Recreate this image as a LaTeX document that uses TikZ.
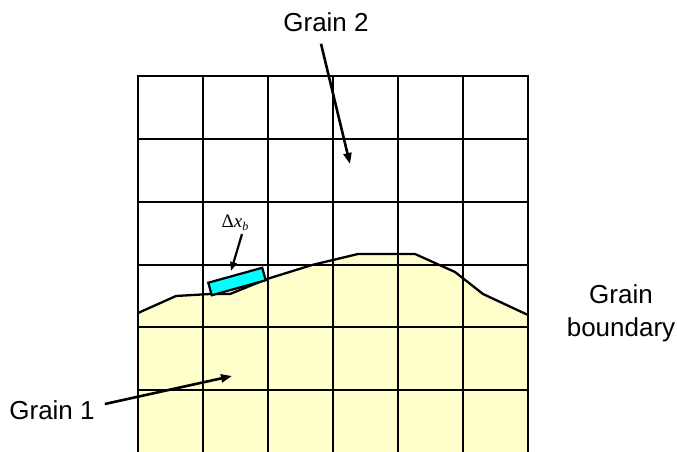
\documentclass[tikz,border=0pt]{standalone}
\usepackage{fontspec}
\setmainfont{Liberation Sans}
\newfontfamily\symbfont{Liberation Serif}
\usepackage{tikz}
\usetikzlibrary{arrows.meta}
\definecolor{grainOne}{HTML}{FFFFCC}
\definecolor{cellBox}{HTML}{00FFFF}
\definecolor{gridInk}{HTML}{000000}

\tikzset{
  gridline/.style={gridInk, line width=2.3pt},
  pointer/.style={gridInk, line width=2.6pt, -{Triangle[length=11pt,width=8pt]}},
  label/.style={font=\fontsize{26}{33}\selectfont, inner sep=0pt}
}

\begin{document}
\begin{tikzpicture}[x=1pt,y=-1pt]
  \useasboundingbox (0,0) rectangle (677,452);
  % Grain 1 (below the boundary)
  \fill[grainOne] (138,313) -- (176,296) -- (210,294) -- (230,294)
    -- (267,279) -- (312,265) -- (358,254) -- (415,254) -- (455,272)
    -- (483,294) -- (528,315) -- (528,452) -- (138,452) -- cycle;
  % Grid lines
  \draw[gridline] (138,76) -- (528,76);
  \draw[gridline] (138,139) -- (528,139);
  \draw[gridline] (138,202) -- (528,202);
  \draw[gridline] (138,265) -- (528,265);
  \draw[gridline] (138,327) -- (528,327);
  \draw[gridline] (138,390) -- (528,390);
  \draw[gridline] (138,75) -- (138,452);
  \draw[gridline] (203,75) -- (203,452);
  \draw[gridline] (268,75) -- (268,452);
  \draw[gridline] (333,75) -- (333,452);
  \draw[gridline] (398,75) -- (398,452);
  \draw[gridline] (463,75) -- (463,452);
  \draw[gridline] (528,75) -- (528,452);
  % Grain boundary line
  \draw[gridline, line join=round] (138,313) -- (176,296) -- (210,294)
    -- (230,294) -- (267,279) -- (312,265) -- (358,254) -- (415,254)
    -- (455,272) -- (483,294) -- (528,315);
  % Boundary cell element
  \node[draw=gridInk, fill=cellBox, line width=2.2pt, inner sep=0pt,
    minimum width=56pt, minimum height=13pt, rotate=15.5] (dxb) at (237,281.5) {};
  \node[font=\symbfont\fontsize{19}{22}\selectfont, inner sep=1pt] (dxblabel)
    at (235,223) {Δ\textit{x}\raisebox{-3pt}{\fontsize{12}{14}\selectfont\textit{b}}};
  \coordinate (dxbtip) at (231,271);
  \draw[pointer, line width=2.2pt, -{Triangle[length=9pt,width=6.5pt]}]
    ([xshift=7pt,yshift=-2pt]dxblabel.south) -- (dxbtip);
  % Labels and pointers
  \node[label] (g2) at (326,22) {Grain 2};
  \coordinate (g2tip) at (350,164);
  \draw[pointer] ([xshift=-5pt,yshift=-12pt]g2.south) -- (g2tip);
  \node[label] (g1) at (52,410) {Grain 1};
  \coordinate (g1tip) at (232,376);
  \draw[pointer] ([xshift=10pt,yshift=6pt]g1.east) -- (g1tip);
  \node[label, align=center] (gb) at (621,313) {Grain\\boundary};
\end{tikzpicture}
\end{document}
